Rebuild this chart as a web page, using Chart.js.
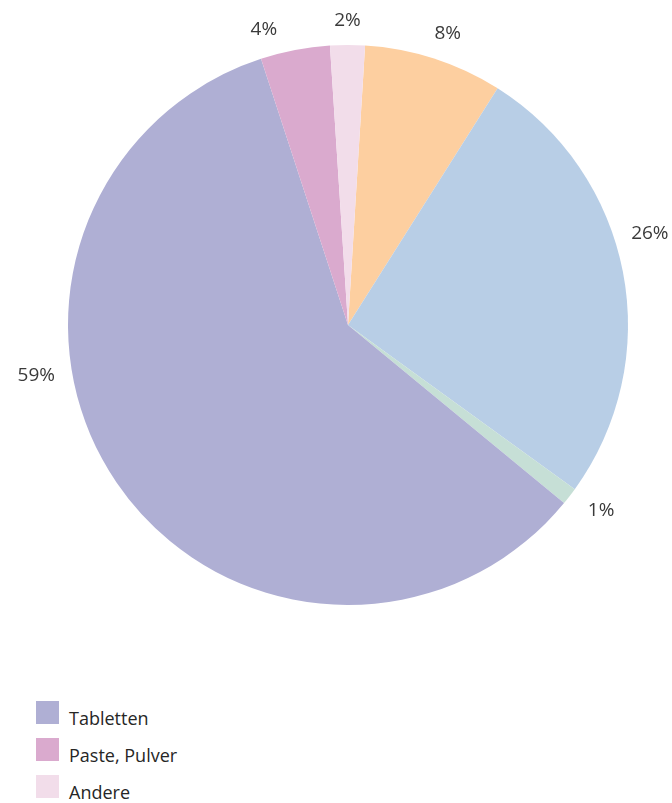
<!DOCTYPE html>
<html lang="de">
<head>
<meta charset="utf-8">
<title>Anteile</title>
<script src="https://cdn.jsdelivr.net/npm/chart.js@4/dist/chart.umd.min.js"></script>
<style>
    html, body {
        margin: 0;
        padding: 0;
        background: #ffffff;
    }
    #wrap {
        position: relative;
        width: 672px;
        height: 650px;
    }
    #legend {
        list-style: none;
        margin: 51px 0 0 36px;
        padding: 0;
        font-family: "Open Sans", sans-serif;
        font-size: 18px;
        color: #262626;
    }
    #legend li {
        display: flex;
        align-items: flex-end;
        height: 23px;
        margin-bottom: 14px;
    }
    #legend .box {
        width: 23px;
        height: 23px;
        margin-right: 10px;
        flex: none;
    }
    #legend .txt {
        line-height: 18px;
        position: relative;
        top: 3px;
    }
</style>
</head>
<body>
<div id="wrap">
    <canvas id="myChart" width="672" height="650"></canvas>
</div>
<ul id="legend"></ul>

<script>
// Slices in clockwise order, starting just right of 12 o'clock
const categories = ["Gel", "Flüssig", "Caps", "Tabletten", "Paste, Pulver", "Andere"];
const shares = [8, 26, 1, 59, 4, 2];
const colors = ["#FDCFA0", "#B8CEE6", "#C6DFD6", "#AFAFD4", "#DAAACE", "#F2DDEA"];
const legendShown = ["Tabletten", "Paste, Pulver", "Andere"];
// extra turn (degrees) for labels that sit away from their slice middle
const labelShift = [1, -6, -1.5, 25, -5, 0];

// percent labels outside the pie
const outerLabels = {
    id: "outerLabels",
    afterDatasetsDraw(chart) {
        const ctx = chart.ctx;
        const meta = chart.getDatasetMeta(0);
        ctx.save();
        ctx.font = "19px 'Open Sans', sans-serif";
        ctx.fillStyle = "#3a3a3a";
        ctx.textAlign = "center";
        ctx.textBaseline = "middle";
        meta.data.forEach((arc, i) => {
            const p = arc.getProps(["x", "y", "startAngle", "endAngle", "outerRadius"], true);
            const mid = (p.startAngle + p.endAngle) / 2 + labelShift[i] * Math.PI / 180;
            const d = p.outerRadius + 24 + 12 * Math.abs(Math.cos(mid));
            ctx.fillText(shares[i] + "%", p.x + Math.cos(mid) * d, p.y + Math.sin(mid) * d);
        });
        ctx.restore();
    },
};

const ctx = document.getElementById("myChart");
const myChart = new Chart(ctx, {
    type: "pie",
    data: {
        labels: categories,
        datasets: [
            {
                data: shares,
                backgroundColor: colors,
                borderWidth: 0,
                hoverOffset: 0,
            },
        ],
    },
    options: {
        responsive: false,
        animation: false,
        rotation: 3.5,
        layout: {
            padding: { top: 45, left: 68, right: 44, bottom: 45 },
        },
        plugins: {
            legend: { display: false },
            tooltip: { enabled: false },
        },
    },
    plugins: [outerLabels],
});

// html legend, built from the chart's own items
const items = myChart.options.plugins.legend.labels.generateLabels(myChart);
const ul = document.getElementById("legend");
legendShown.forEach((name) => {
    const item = items.find((it) => it.text === name);
    const li = document.createElement("li");
    const box = document.createElement("span");
    box.className = "box";
    box.style.background = item.fillStyle;
    const txt = document.createElement("span");
    txt.className = "txt";
    txt.textContent = item.text;
    li.appendChild(box);
    li.appendChild(txt);
    ul.appendChild(li);
});
</script>
</body>
</html>
